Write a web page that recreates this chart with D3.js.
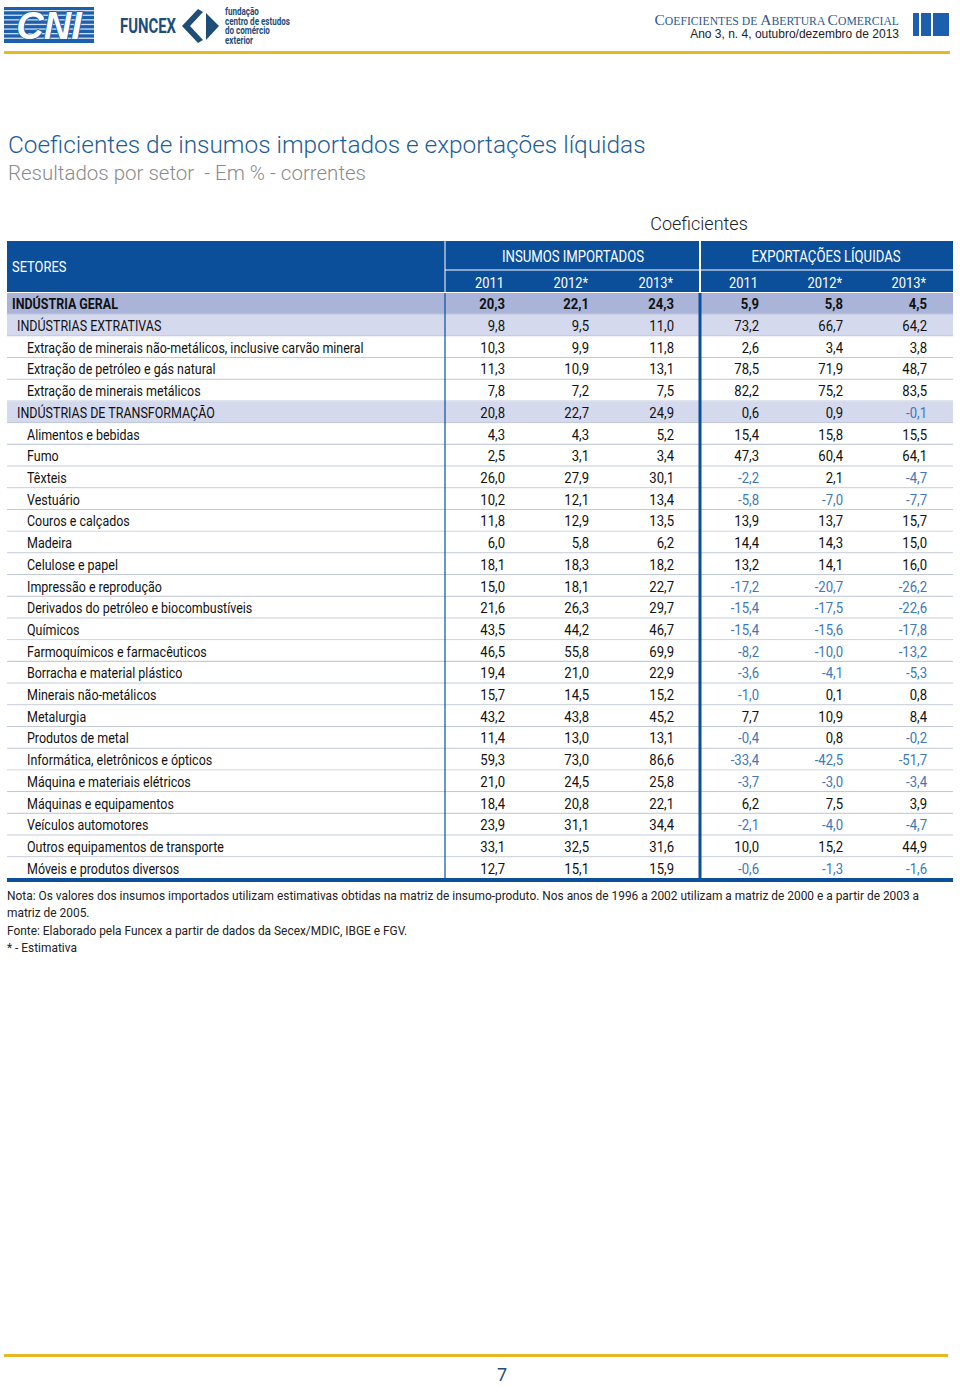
<!DOCTYPE html>
<html><head><meta charset="utf-8">
<script src="https://cdn.jsdelivr.net/npm/d3@7"></script>
<style>
body{margin:0;background:#fff;}
svg{display:block;}
text{white-space:pre;}
</style></head>
<body>
<script>
// ---------- DATA ----------
const sectors = [
  "INDÚSTRIA GERAL","INDÚSTRIAS EXTRATIVAS",
  "Extração de minerais não-metálicos, inclusive carvão mineral",
  "Extração de petróleo e gás natural","Extração de minerais metálicos",
  "INDÚSTRIAS DE TRANSFORMAÇÃO","Alimentos e bebidas","Fumo","Têxteis","Vestuário",
  "Couros e calçados","Madeira","Celulose e papel","Impressão e reprodução",
  "Derivados do petróleo e biocombustíveis","Químicos","Farmoquímicos e farmacêuticos",
  "Borracha e material plástico","Minerais não-metálicos","Metalurgia","Produtos de metal",
  "Informática, eletrônicos e ópticos","Máquina e materiais elétricos","Máquinas e equipamentos",
  "Veículos automotores","Outros equipamentos de transporte","Móveis e produtos diversos"
];
const levels = [0,1,2,2,2,1,2,2,2,2,2,2,2,2,2,2,2,2,2,2,2,2,2,2,2,2,2];
const years = ["2011","2012*","2013*"];
const groups = ["INSUMOS IMPORTADOS","EXPORTAÇÕES LÍQUIDAS"];
const insumos2011 = [20.3,9.8,10.3,11.3,7.8,20.8,4.3,2.5,26.0,10.2,11.8,6.0,18.1,15.0,21.6,43.5,46.5,19.4,15.7,43.2,11.4,59.3,21.0,18.4,23.9,33.1,12.7];
const insumos2012 = [22.1,9.5,9.9,10.9,7.2,22.7,4.3,3.1,27.9,12.1,12.9,5.8,18.3,18.1,26.3,44.2,55.8,21.0,14.5,43.8,13.0,73.0,24.5,20.8,31.1,32.5,15.1];
const insumos2013 = [24.3,11.0,11.8,13.1,7.5,24.9,5.2,3.4,30.1,13.4,13.5,6.2,18.2,22.7,29.7,46.7,69.9,22.9,15.2,45.2,13.1,86.6,25.8,22.1,34.4,31.6,15.9];
const export2011 = [5.9,73.2,2.6,78.5,82.2,0.6,15.4,47.3,-2.2,-5.8,13.9,14.4,13.2,-17.2,-15.4,-15.4,-8.2,-3.6,-1.0,7.7,-0.4,-33.4,-3.7,6.2,-2.1,10.0,-0.6];
const export2012 = [5.8,66.7,3.4,71.9,75.2,0.9,15.8,60.4,2.1,-7.0,13.7,14.3,14.1,-20.7,-17.5,-15.6,-10.0,-4.1,0.1,10.9,0.8,-42.5,-3.0,7.5,-4.0,15.2,-1.3];
const export2013 = [4.5,64.2,3.8,48.7,83.5,-0.1,15.5,64.1,-4.7,-7.7,15.7,15.0,16.0,-26.2,-22.6,-17.8,-13.2,-5.3,0.8,8.4,-0.2,-51.7,-3.4,3.9,-4.7,44.9,-1.6];
const seriesCols = [insumos2011,insumos2012,insumos2013,export2011,export2012,export2013];
const notes = [
  "Nota: Os valores dos insumos importados utilizam estimativas obtidas na matriz de insumo-produto. Nos anos de 1996 a 2002 utilizam a matriz de 2000 e a partir de 2003 a",
  "matriz de 2005.",
  "Fonte: Elaborado pela Funcex a partir de dados da Secex/MDIC, IBGE e FGV.",
  "* - Estimativa"
];

// ---------- DRAW ----------
const W = 960, H = 1387;
const svg = d3.select("body").append("svg").attr("width", W).attr("height", H);
const FONT = "Roboto,'Liberation Sans',sans-serif";
const BLUE = "#0b4f9b";
const fmt = v => d3.format(".1f")(v).replace("\u2212", "-").replace(".", ",");

function measure(txt, size, weight){
  const t = svg.append("text").attr("font-family",FONT).attr("font-size",size).attr("font-weight",weight||"normal").text(txt);
  const w = t.node().getComputedTextLength(); t.remove(); return w;
}
function ntext(parent, x, y, txt, o){
  o = o || {};
  const g = parent.append("g").attr("transform",`translate(${x},${y}) scale(${o.sx||1},1)`);
  return g.append("text").attr("font-family",FONT).attr("font-size",o.size||15)
    .attr("font-weight",o.weight||"normal").attr("text-anchor",o.anchor||"start")
    .attr("fill",o.fill||"#111").text(txt);
}
const BODY = 15;
const SX = 337 / measure(sectors[2], BODY);
const NOTE = 13.5;
const NSX = 913 / measure(notes[0], NOTE);

// page header
const hdr = svg.append("g");
hdr.append("rect").attr("x",4).attr("y",7).attr("width",90).attr("height",36).attr("fill","#1b5fae");
for (let i=0;i<7;i++) hdr.append("rect").attr("x",4).attr("y",10+i*4.6).attr("width",90).attr("height",1.3).attr("fill","#fff").attr("opacity",0.8);
hdr.append("text").attr("x",49).attr("y",39).attr("text-anchor","middle")
  .attr("font-family","'Liberation Sans',Arial,sans-serif").attr("font-weight","bold").attr("font-style","italic")
  .attr("font-size",38).attr("fill","#fff").attr("stroke","#1b5fae").attr("stroke-width",1.5).attr("paint-order","stroke").text("CNI");
ntext(hdr,120,33,"FUNCEX",{size:20,weight:"bold",fill:"#1e4d78",sx:56/measure("FUNCEX",20,"bold")});
hdr.append("path").attr("d","M198,9 L182,26 L198,43 L203,40 L190,26 L203,12 Z").attr("fill","#1e4d78");
hdr.append("path").attr("d","M206,13 L219,26 L206,40 Z").attr("fill","#1e4d78");
const ssx = 65/measure("centro de estudos",10,"bold");
["fundação","centro de estudos","do comércio","exterior"].forEach((t,i)=>{
  ntext(hdr,225,15+i*9.6,t,{size:10,weight:"bold",fill:"#1e4d78",sx:ssx});
});
const rt = hdr.append("text").attr("x",899).attr("y",25).attr("text-anchor","end")
  .attr("font-family","'Liberation Serif','DejaVu Serif',serif").attr("fill","#2e5a8c");
[["C",15.5],["OEFICIENTES DE ",11.7],["A",15.5],["BERTURA ",11.7],["C",15.5],["OMERCIAL",11.7]]
  .forEach(([t,s])=>rt.append("tspan").attr("font-size",s).text(t));
hdr.append("text").attr("x",899).attr("y",38).attr("text-anchor","end")
  .attr("font-family","'Liberation Sans',Arial,sans-serif").attr("font-size",12).attr("fill","#222")
  .text("Ano 3, n. 4, outubro/dezembro de 2013");
[[913,6],[921,10],[933,16]].forEach(([x,w])=>hdr.append("rect").attr("x",x).attr("y",13).attr("width",w).attr("height",23).attr("fill","#1b5fae"));
hdr.append("rect").attr("x",4).attr("y",51).attr("width",946).attr("height",3).attr("fill","#e6b821");

// titles
const T1 = "Coeficientes de insumos importados e exportações líquidas";
ntext(svg,8,153,T1,{size:24,weight:300,fill:"#1e5d99",sx:638/measure(T1,24,300)});
const T2 = "Resultados por setor  - Em % - correntes";
ntext(svg,8,180,T2,{size:19.5,weight:300,fill:"#8a8a8a",sx:358/measure(T2,19.5,300)});
svg.append("text").attr("x",699).attr("y",230).attr("text-anchor","middle").attr("font-family",FONT)
  .attr("font-weight",300).attr("font-size",18).attr("fill","#222").text("Coeficientes");

// table geometry
const tL = 7, tR = 953, d1 = 445, d2 = 700;
const hTop = 241, hMid = 270, hBot = 292;
const y = d3.scaleBand().domain(d3.range(sectors.length)).range([293, 879]).padding(0);
const colRight = d3.scaleOrdinal().domain(d3.range(6)).range([505, 589, 674, 759, 843, 927]);
const groupCenter = d3.scaleOrdinal().domain(groups).range([573, 826]);

// header
const th = svg.append("g");
th.append("rect").attr("x",tL).attr("y",hTop).attr("width",tR-tL).attr("height",hBot-hTop).attr("fill",BLUE);
th.append("line").attr("x1",d1).attr("x2",d1).attr("y1",hTop).attr("y2",hBot).attr("stroke","#fff").attr("stroke-width",1);
th.append("line").attr("x1",d2).attr("x2",d2).attr("y1",hTop).attr("y2",hBot).attr("stroke","#fff").attr("stroke-width",2);
th.append("line").attr("x1",d1).attr("x2",tR).attr("y1",hMid).attr("y2",hMid).attr("stroke","#fff").attr("stroke-width",1);
ntext(th,12,272,"SETORES",{size:15.5,fill:"#fff",sx:SX});
groups.forEach(gname=>ntext(th,groupCenter(gname),262,gname,{size:15.8,fill:"#fff",anchor:"middle",sx:SX}));
d3.range(6).forEach(i=>ntext(th,colRight(i)-1,288,years[i%3],{size:15.5,fill:"#fff",anchor:"end",sx:SX}));

// body rows
const rows = svg.append("g").selectAll("g").data(sectors).join("g")
  .attr("transform",(d,i)=>`translate(0,${y(i)})`);
rows.append("rect").attr("x",tL).attr("width",tR-tL).attr("height",y.bandwidth())
  .attr("fill",(d,i)=>levels[i]===0?"#a9b4d8":levels[i]===1?"#d4d9ee":"#fff");
rows.filter((d,i)=>i<sectors.length-1).append("line").attr("x1",tL).attr("x2",tR)
  .attr("y1",y.bandwidth()-0.5).attr("y2",y.bandwidth()-0.5)
  .attr("stroke","#c2cad9").attr("stroke-width",1.2);
rows.each(function(d,i){
  const g = d3.select(this);
  const by = y.bandwidth()/2+5.5;
  const wt = levels[i]===0?"bold":"normal";
  ntext(g,[12,17,27][levels[i]],by,d,{size:BODY,weight:wt,sx:SX});
  seriesCols.forEach((col,c)=>{
    const v = col[i];
    ntext(g,colRight(c),by,fmt(v),{size:BODY,weight:wt,anchor:"end",sx:SX*1.05,fill:v<0?"#3d78b8":"#111"});
  });
});
// dividers
svg.append("line").attr("x1",d1).attr("x2",d1).attr("y1",293).attr("y2",879).attr("stroke",BLUE).attr("stroke-width",1.2);
svg.append("line").attr("x1",d2).attr("x2",d2).attr("y1",293).attr("y2",879).attr("stroke",BLUE).attr("stroke-width",3);
svg.append("rect").attr("x",tL).attr("y",878).attr("width",tR-tL).attr("height",4).attr("fill",BLUE);

// notes
notes.forEach((t,i)=>ntext(svg,7,[900,917,935,952][i],t,{size:NOTE,fill:"#222",sx:NSX}));

// footer
svg.append("rect").attr("x",4).attr("y",1354).attr("width",944).attr("height",3).attr("fill","#e6b821");
svg.append("text").attr("x",502).attr("y",1381).attr("text-anchor","middle").attr("font-family",FONT)
  .attr("font-size",18).attr("fill","#1e4d78").text("7");
</script>
</body></html>
